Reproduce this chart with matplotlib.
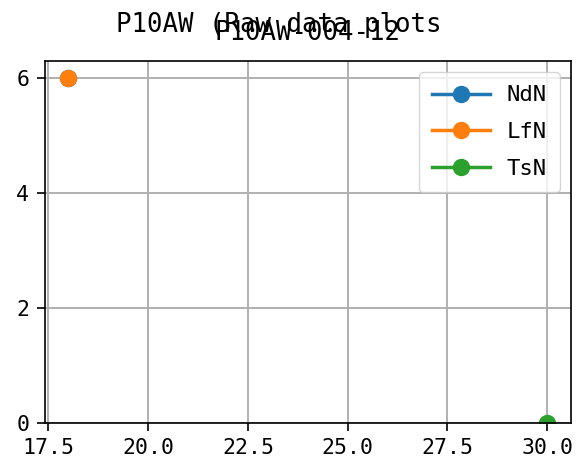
import matplotlib
matplotlib.use('Agg')
import matplotlib.pyplot as plt
from matplotlib.ticker import MultipleLocator

plt.rcParams['font.family'] = ['DejaVu Sans Mono']

# series data (x position, count)
ndn_x = [18]
ndn_y = [6]
lfn_x = [18]
lfn_y = [6]
tsn_x = [30]
tsn_y = [0]
series_names = ['NdN', 'LfN', 'TsN']

W, H = 577, 470
fig = plt.figure(figsize=(W / 100, H / 100), dpi=100)
ax = fig.add_axes([44.5 / W, (H - 423) / H, (571 - 44.5) / W, (423 - 61) / H])

for xs, ys, name in zip([ndn_x, lfn_x, tsn_x], [ndn_y, lfn_y, tsn_y], series_names):
    ax.plot(xs, ys, marker='o', markersize=11.5, linewidth=2.5, label=name)

ax.set_ylim(bottom=0)
ax.xaxis.set_major_locator(MultipleLocator(2.5))
ax.yaxis.set_major_locator(MultipleLocator(2))
ax.grid(True, color='#b0b0b0', linewidth=1.4)
for s in ax.spines.values():
    s.set_linewidth(1.2)
ax.tick_params(labelsize=15.5, length=6, width=1.2, pad=5)

ax.legend(loc='upper right', fontsize=16, handlelength=2.6, handletextpad=0.75,
          labelspacing=0.75, borderpad=0.6)

ax.set_title('P10AW-004-12', fontsize=18.5, pad=15)
fig.suptitle('P10AW (Raw data plots', x=279 / W, y=1 - 31.7 / H, va='baseline', fontsize=18.5)

fig.savefig('out.png', dpi=100)
